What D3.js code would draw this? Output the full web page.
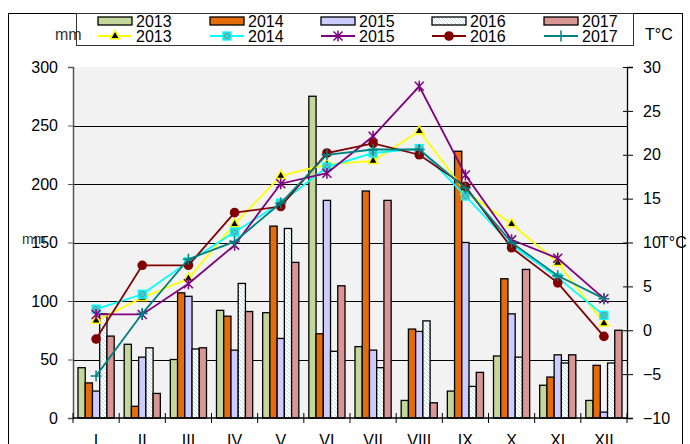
<!DOCTYPE html>
<html>
<head>
<meta charset="utf-8">
<script src="https://cdn.jsdelivr.net/npm/d3@7"></script>
<style>
  html, body { margin: 0; padding: 0; background: #fff; }
  svg { display: block; font-family: "Liberation Sans", Arial, sans-serif; }
</style>
</head>
<body>
<div id="chart"></div>
<script>
// ─── Data ───
const months = ['I', 'II', 'III', 'IV', 'V', 'VI', 'VII', 'VIII', 'IX', 'X', 'XI', 'XII'];
const years = ['2013', '2014', '2015', '2016', '2017'];

// precipitation, mm
const rain2013 = [43, 63, 50, 92, 90, 275, 61, 15, 23, 53, 28, 15];
const rain2014 = [30, 10, 107, 87, 164, 72, 194, 76, 228, 119, 35, 45];
const rain2015 = [23, 52, 104, 58, 68, 186, 58, 74, 150, 89, 54, 5];
const rain2016 = [89, 60, 59, 115, 162, 57, 43, 83, 27, 52, 47, 47];
const rain2017 = [70, 21, 60, 91, 133, 113, 186, 13, 39, 127, 54, 75];

// mean temperature, °C
const temp2013 = [1.1, 3.7, 5.9, 12.1, 17.6, 18.9, 19.3, 22.7, 15.8, 12.1, 7.7, 0.8];
const temp2014 = [2.4, 4.1, 7.8, 11.2, 14.5, 18.6, 20.2, 20.7, 15.3, 9.7, 6.0, 1.7];
const temp2015 = [1.8, 1.8, 5.3, 9.7, 16.7, 17.9, 22.1, 27.8, 17.7, 10.3, 8.2, 3.6];
const temp2016 = [-1.0, 7.4, 7.4, 13.4, 14.1, 20.2, 21.3, 20.0, 16.4, 9.4, 5.4, -0.7];
const temp2017 = [-5.2, 1.9, 8.1, 10.1, 14.5, 20.0, 20.6, 20.6, 16.2, 10.0, 6.2, 3.6];

const rainTicks = [0, 50, 100, 150, 200, 250, 300];
const tempTicks = [-10, -5, 0, 5, 10, 15, 20, 25, 30];

const rainSeries = [rain2013, rain2014, rain2015, rain2016, rain2017];
const tempSeries = [temp2013, temp2014, temp2015, temp2016, temp2017];

// ─── Layout ───
const W = 690, H = 444;
const plot = { left: 73, right: 627, top: 67, bottom: 418 };

const barFill = ['#c4d79b', '#e46c0a', '#ccccff', 'url(#hatch)', '#da9694'];
const lineColor = ['#ffff00', '#00ffff', '#800080', '#800000', '#008080'];

const svg = d3.select('#chart').append('svg')
    .attr('width', W)
    .attr('height', H);

const defs = svg.append('defs');
const hatch = defs.append('pattern')
    .attr('id', 'hatch')
    .attr('patternUnits', 'userSpaceOnUse')
    .attr('width', 4)
    .attr('height', 4);
hatch.append('rect').attr('width', 4).attr('height', 4).attr('fill', '#fff');
hatch.append('path')
    .attr('d', 'M-1,-1 L5,5 M-1,3 L1,5 M3,-1 L5,1')
    .attr('stroke', '#b7dde8')
    .attr('stroke-width', 1);

// ─── Scales ───
const x = d3.scaleBand().domain(months).range([plot.left, plot.right]);
const bw = x.bandwidth();
const xi = d3.scaleBand().domain(years).range([5, bw - 5]);
const yL = d3.scaleLinear().domain([0, 300]).range([plot.bottom, plot.top]);
const yR = d3.scaleLinear().domain([-10, 30]).range([plot.bottom, plot.top]);

// outer frame
svg.append('rect')
    .attr('x', 8.5).attr('y', 13.5)
    .attr('width', 674).attr('height', 460)
    .attr('fill', 'none')
    .attr('stroke', '#000')
    .attr('stroke-width', 1);

// plot background
svg.append('rect')
    .attr('x', plot.left).attr('y', plot.top)
    .attr('width', plot.right - plot.left)
    .attr('height', plot.bottom - plot.top)
    .attr('fill', '#f2f2f2');

// gridlines
svg.append('g')
    .selectAll('line')
    .data(rainTicks.filter(v => v > 0 && v < 300))
    .join('line')
    .attr('x1', plot.left).attr('x2', plot.right)
    .attr('y1', d => Math.round(yL(d)) + 0.5)
    .attr('y2', d => Math.round(yL(d)) + 0.5)
    .attr('stroke', '#000')
    .attr('stroke-width', 1);

// ─── Bars ───
const barGroup = svg.append('g');
rainSeries.forEach((series, si) => {
    barGroup.append('g')
        .selectAll('rect')
        .data(series)
        .join('rect')
        .attr('x', (d, i) => x(months[i]) + xi(years[si]))
        .attr('y', d => yL(d))
        .attr('width', xi.bandwidth())
        .attr('height', d => yL(0) - yL(d))
        .attr('fill', barFill[si])
        .attr('stroke', '#000')
        .attr('stroke-width', 1.3);
});

// ─── Axes ───
const leftAxis = svg.append('g')
    .attr('transform', `translate(${plot.left},0)`)
    .call(d3.axisLeft(yL).tickValues(rainTicks).tickSize(5).tickPadding(10));
leftAxis.select('.domain').attr('stroke', '#555').attr('stroke-width', 1.5);
leftAxis.selectAll('.tick line').attr('stroke', '#555');
leftAxis.selectAll('text').attr('font-size', 16).attr('fill', '#000')
    .attr('font-family', '"Liberation Sans", Arial, sans-serif');

const rightAxis = svg.append('g')
    .attr('transform', `translate(${plot.right},0)`)
    .call(d3.axisRight(yR).tickValues(tempTicks).tickSize(6).tickPadding(10));
rightAxis.select('.domain').attr('stroke', '#000').attr('stroke-width', 1.3);
rightAxis.selectAll('.tick line').attr('x1', -4).attr('stroke', '#000');
rightAxis.selectAll('text').attr('font-size', 16).attr('fill', '#000')
    .attr('font-family', '"Liberation Sans", Arial, sans-serif');

// bottom axis: ticks on month boundaries, labels centred
const bottom = svg.append('g');
bottom.append('line')
    .attr('x1', plot.left).attr('x2', plot.right)
    .attr('y1', plot.bottom).attr('y2', plot.bottom)
    .attr('stroke', '#000').attr('stroke-width', 1.5);
bottom.selectAll('line.tk')
    .data(months.map(m => x(m)).concat([plot.right]))
    .join('line')
    .attr('class', 'tk')
    .attr('x1', d => d).attr('x2', d => d)
    .attr('y1', plot.bottom - 5).attr('y2', plot.bottom + 5)
    .attr('stroke', '#000');
bottom.selectAll('text')
    .data(months)
    .join('text')
    .attr('x', d => x(d) + bw / 2)
    .attr('y', 446)
    .attr('text-anchor', 'middle')
    .attr('font-size', 16)
    .text(d => d);

// ─── Temperature lines ───
const line = d3.line()
    .x((d, i) => x(months[i]) + bw / 2)
    .y(d => yR(d));

const tri = d3.symbol().type(d3.symbolTriangle).size(38);

function drawMarker(g, si, cx, cy) {
    const c = lineColor[si];
    if (si === 0) {
        g.append('path').attr('d', tri())
            .attr('transform', `translate(${cx},${cy})`)
            .attr('fill', '#000').attr('stroke', c).attr('stroke-width', 1.5);
    } else if (si === 1) {
        g.append('rect')
            .attr('x', cx - 4).attr('y', cy - 4).attr('width', 8).attr('height', 8)
            .attr('fill', '#62a6a8').attr('stroke', c).attr('stroke-width', 1.3);
        g.append('path')
            .attr('d', `M${cx - 3},${cy - 3}L${cx + 3},${cy + 3}M${cx - 3},${cy + 3}L${cx + 3},${cy - 3}`)
            .attr('stroke', c).attr('stroke-width', 1);
    } else if (si === 2) {
        g.append('path')
            .attr('d', `M${cx - 4.5},${cy - 4.5}L${cx + 4.5},${cy + 4.5}M${cx - 4.5},${cy + 4.5}L${cx + 4.5},${cy - 4.5}M${cx},${cy - 5.5}L${cx},${cy + 5.5}`)
            .attr('stroke', c).attr('stroke-width', 1.5);
    } else if (si === 3) {
        g.append('circle').attr('cx', cx).attr('cy', cy).attr('r', 4.8)
            .attr('fill', c);
    } else {
        g.append('path')
            .attr('d', `M${cx - 5.5},${cy}L${cx + 5.5},${cy}M${cx},${cy - 5.5}L${cx},${cy + 5.5}`)
            .attr('stroke', c).attr('stroke-width', 1.5);
    }
}

tempSeries.forEach((series, si) => {
    const g = svg.append('g');
    g.append('path')
        .datum(series)
        .attr('d', line)
        .attr('fill', 'none')
        .attr('stroke', lineColor[si])
        .attr('stroke-width', 1.8);
    series.forEach((v, i) => drawMarker(g, si, x(months[i]) + bw / 2, yR(v)));
});

// ─── Legend ───
const legend = svg.append('g');
legend.append('rect')
    .attr('x', 76.5).attr('y', 13.5)
    .attr('width', 557).attr('height', 32)
    .attr('fill', '#fff')
    .attr('stroke', '#333');

const colX = [98, 210, 321, 432, 544];
years.forEach((yr, si) => {
    const lx = colX[si];
    legend.append('rect')
        .attr('x', lx).attr('y', 17)
        .attr('width', 34).attr('height', 8)
        .attr('fill', barFill[si])
        .attr('stroke', '#000').attr('stroke-width', 1.3);
    legend.append('text')
        .attr('x', lx + 38).attr('y', 27)
        .attr('font-size', 16)
        .text(yr);

    legend.append('line')
        .attr('x1', lx).attr('x2', lx + 34)
        .attr('y1', 36).attr('y2', 36)
        .attr('stroke', lineColor[si]).attr('stroke-width', 1.8);
    drawMarker(legend, si, lx + 17, 36);
    legend.append('text')
        .attr('x', lx + 38).attr('y', 42)
        .attr('font-size', 16)
        .text(yr);
});

// axis titles (overlapping as in the original)
svg.append('text').attr('x', 55).attr('y', 40).attr('font-size', 16).attr('fill', '#333').text('mm');
svg.append('text').attr('x', 645).attr('y', 40).attr('font-size', 16).text('T°C');
svg.append('text').attr('x', 22).attr('y', 244).attr('font-size', 14).attr('fill', '#333').text('mm');
svg.append('text').attr('x', 659).attr('y', 248).attr('font-size', 16).text('T°C');
</script>
</body>
</html>
